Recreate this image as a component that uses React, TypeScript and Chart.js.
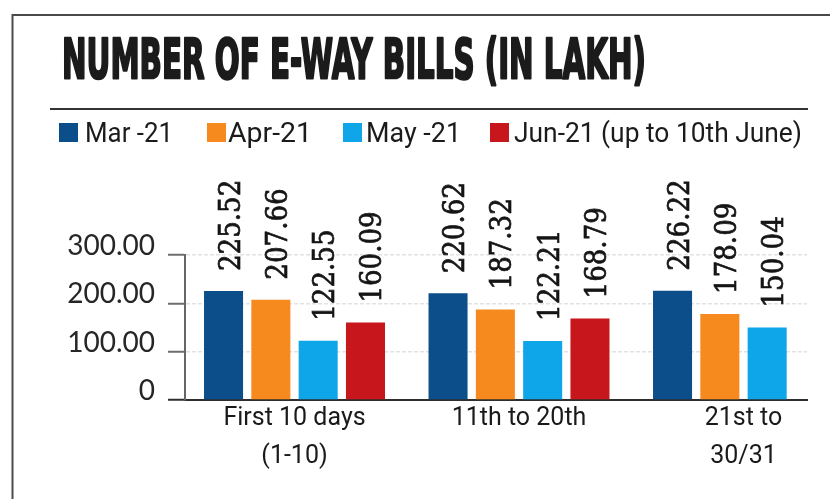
import React, { useEffect, useRef } from 'react';
import { Chart, registerables } from 'chart.js';

Chart.register(...registerables);

// ---- data ----
const titleText = 'NUMBER OF E-WAY BILLS (IN LAKH)';
const categories: string[][] = [['First 10 days', '(1-10)'], ['11th to 20th'], ['21st to', '30/31']];
const seriesNames = ['Mar -21', 'Apr-21', 'May -21', 'Jun-21 (up to 10th June)'];
const mar21 = [225.52, 220.62, 226.22];
const apr21 = [207.66, 187.32, 178.09];
const may21 = [122.55, 122.21, 150.04];
const jun21: (number | null)[] = [160.09, 168.79, null];
const yTickValues = [0, 100, 200, 300];
const seriesColors = ['#0c4e8a', '#f68a1f', '#0fa5e9', '#c8161d'];

const allSeries = [mar21, apr21, may21, jun21];

const decorPlugin = {
  id: 'decor',
  beforeDraw(chart: any) {
    const ctx = chart.ctx as CanvasRenderingContext2D;
    ctx.save();
    // frame lines
    ctx.strokeStyle = '#4a4a4a';
    ctx.lineWidth = 2;
    ctx.beginPath();
    ctx.moveTo(11.5, 15);
    ctx.lineTo(830, 15);
    ctx.moveTo(12.5, 15);
    ctx.lineTo(12.5, 499);
    ctx.stroke();
    // separator under title
    ctx.strokeStyle = '#333';
    ctx.beginPath();
    ctx.moveTo(50, 109);
    ctx.lineTo(808, 109);
    ctx.stroke();

    // title (condensed heavy)
    ctx.fillStyle = '#1b1b1b';
    ctx.strokeStyle = '#1b1b1b';
    ctx.font = 'bold 56px "Liberation Sans Narrow", "DejaVu Sans Condensed", sans-serif';
    ctx.textBaseline = 'alphabetic';
    ctx.textAlign = 'left';
    const w = ctx.measureText(titleText).width;
    ctx.save();
    ctx.translate(62, 78);
    ctx.scale(584 / w, 1);
    ctx.lineWidth = 2.4;
    ctx.lineJoin = 'round';
    ctx.fillText(titleText, 0, 0);
    ctx.strokeText(titleText, 0, 0);
    ctx.restore();

    // legend
    const boxX = [59, 207, 343, 490];
    const textX = [85, 228, 366, 514];
    ctx.font = '27px Roboto, sans-serif';
    chart.data.datasets.forEach((ds: any, i: number) => {
      ctx.fillStyle = ds.backgroundColor;
      ctx.fillRect(boxX[i], 123, 19, 19);
      ctx.fillStyle = '#1b1b1b';
      const tw = ctx.measureText(ds.label).width;
      const target = [88, 84, 95, 288][i];
      ctx.save();
      ctx.translate(textX[i], 142);
      ctx.scale(target / tw, 1);
      ctx.fillText(ds.label, 0, 0);
      ctx.restore();
    });
    ctx.restore();
  },
  afterDatasetsDraw(chart: any) {
    const ctx = chart.ctx as CanvasRenderingContext2D;
    ctx.save();
    ctx.font = '29px "DejaVu Serif Condensed", "DejaVu Serif", serif';
    ctx.fillStyle = '#151515';
    ctx.strokeStyle = '#151515';
    ctx.lineWidth = 0.7;
    ctx.textAlign = 'left';
    ctx.textBaseline = 'alphabetic';
    chart.data.datasets.forEach((ds: any, di: number) => {
      const meta = chart.getDatasetMeta(di);
      meta.data.forEach((el: any, i: number) => {
        const v = ds.data[i].y;
        if (v === null || v === undefined) return;
        ctx.save();
        ctx.translate(el.x + 16, el.y - 20);
        ctx.rotate(-Math.PI / 2);
        ctx.fillText(v.toFixed(2), 0, 0);
        ctx.strokeText(v.toFixed(2), 0, 0);
        ctx.restore();
      });
    });
    ctx.restore();
  },
};

export default function App() {
  const ref = useRef<HTMLCanvasElement | null>(null);

  useEffect(() => {
    if (!ref.current) return;
    const chart = new Chart(ref.current, {
      type: 'bar',
      data: {
        datasets: allSeries.map((vals, si) => ({
          label: seriesNames[si],
          data: vals.map((v, i) => ({ x: i, y: v })),
          backgroundColor: seriesColors[si],
          borderWidth: 0,
          categoryPercentage: 0.843,
          barPercentage: 0.825,
        })),
      },
      options: {
        responsive: false,
        animation: false,
        layout: { padding: { left: 0, top: 255, right: 23, bottom: 0 } },
        plugins: {
          legend: { display: false },
          tooltip: { enabled: false },
          title: { display: false },
        },
        scales: {
          x: {
            type: 'linear',
            offset: false,
            min: -0.4878,
            max: 2.2828,
            afterBuildTicks: (scale: any) => {
              scale.ticks = categories.map((_, i) => ({ value: i }));
            },
            afterFit: (scale: any) => {
              scale.height = 99;
            },
            grid: { display: false, drawTicks: false },
            border: { display: true, color: '#2e2e2e', width: 2 },
            ticks: {
              autoSkip: false,
              maxRotation: 0,
              minRotation: 0,
              padding: 0,
              color: '#1a1a1a',
              font: { family: 'Roboto, sans-serif', size: 25, lineHeight: 1.5 },
              callback: (v: any) => categories[v] ?? '',
            },
          },
          y: {
            min: 0,
            max: 300,
            afterBuildTicks: (scale: any) => {
              scale.ticks = yTickValues.map((v) => ({ value: v }));
            },
            afterFit: (scale: any) => {
              scale.width = 185;
            },
            grid: {
              color: (c: any) => (c.tick && c.tick.value === 0 ? 'rgba(0,0,0,0)' : '#e2e2e2'),
              tickColor: (c: any) => (c.tick && c.tick.value === 0 ? '#2e2e2e' : '#6e6e6e'),
              tickLength: 17,
              tickWidth: 2,
              lineWidth: 1.5,
            },
            border: { display: true, color: '#666', width: 2, dash: [4, 2] },
            ticks: {
              padding: 13,
              labelOffset: -9,
              color: '#262626',
              font: { family: 'Lato, sans-serif', size: 28, weight: 'normal' },
              callback: (v: any) => (v === 0 ? '0' : Number(v).toFixed(2)),
            },
          },
        },
      },
      plugins: [decorPlugin],
    } as any);
    return () => chart.destroy();
  }, []);

  return (
    <div style={{ position: 'absolute', left: 0, top: 0, width: 830, height: 499, background: '#fff' }}>
      <canvas ref={ref} width={830} height={499} style={{ display: 'block' }} />
    </div>
  );
}
